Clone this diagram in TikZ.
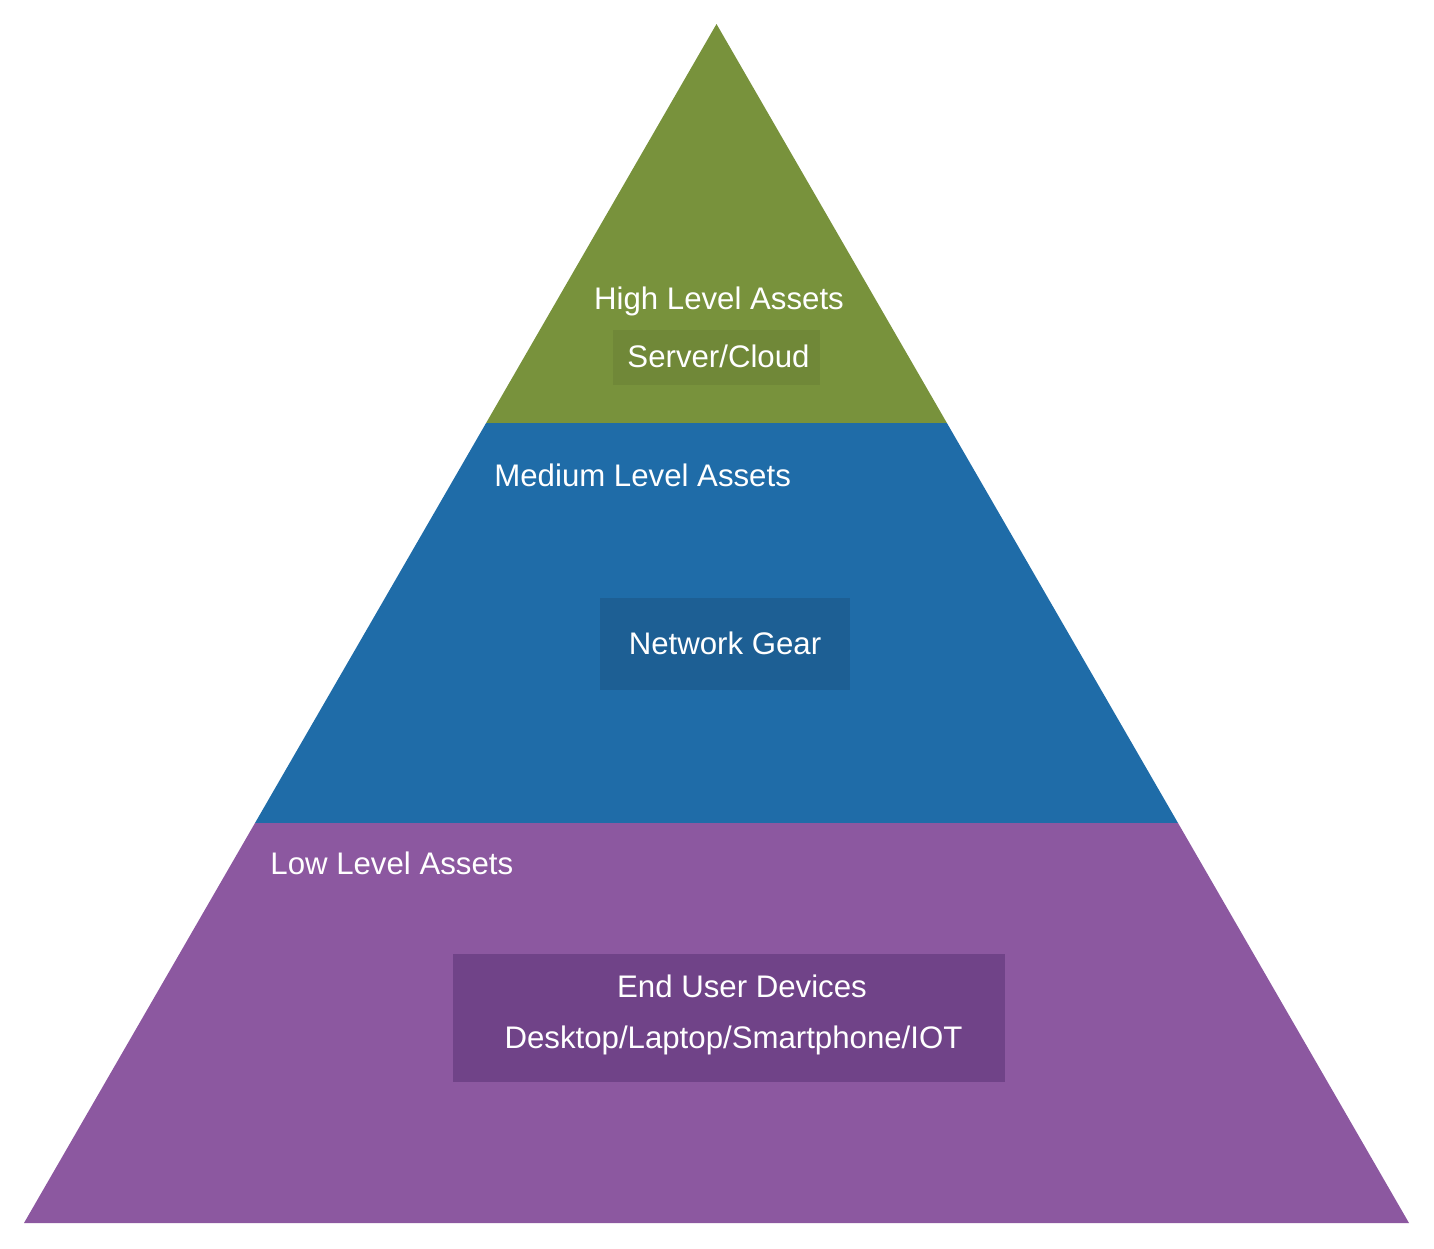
\documentclass[tikz,border=0pt]{standalone}
\usepackage{fontspec}
\setmainfont{Liberation Sans}
\definecolor{highgreen}{RGB}{120,146,60}
\definecolor{highbox}{RGB}{112,136,56}
\definecolor{midblue}{RGB}{31,108,168}
\definecolor{midbox}{RGB}{29,95,148}
\definecolor{lowpurple}{RGB}{140,88,160}
\definecolor{lowbox}{RGB}{112,67,136}
\begin{document}
\begin{tikzpicture}[x=0.5pt, y=-0.5pt,
    every node/.style={text=white, inner sep=0pt, font=\fontsize{15.6}{18}\selectfont}]
        \useasboundingbox (0,0) rectangle (1434,1248);
        % layers
        \fill [highgreen] (716.5,24) -- (946.9,423) -- (486.1,423) -- cycle;
        \fill [midblue] (486.1,423) -- (946.9,423) -- (1178,823) -- (255,823) -- cycle;
        \fill [lowpurple] (255,823) -- (1178,823) -- (1409,1223) -- (24,1223) -- cycle;
        % boxes
        \node [fill=highbox, minimum width=103.5pt, minimum height=27.5pt] (serverbox) at (716.5,357.5) {};
        \node [fill=midbox, minimum width=125pt, minimum height=46pt] (netbox) at (725,644) {};
        \node [fill=lowbox, minimum width=276pt, minimum height=64pt] (userbox) at (729,1018) {};
        % labels
        \node [anchor=base] (high) at (719,309) {High Level Assets};
        \node [anchor=base] (server) at (718.5,367) {Server/Cloud};
        \node [anchor=base west] (medium) at (494,486) {Medium Level Assets};
        \node [anchor=base] (network) at (725,654) {Network Gear};
        \node [anchor=base west] (low) at (270,874) {Low Level Assets};
        \node [anchor=base] (enduser) at (742,997) {End User Devices};
        \node [anchor=base] (devices) at (733.5,1048) {Desktop/Laptop/Smartphone/IOT};
      \end{tikzpicture}
\end{document}
